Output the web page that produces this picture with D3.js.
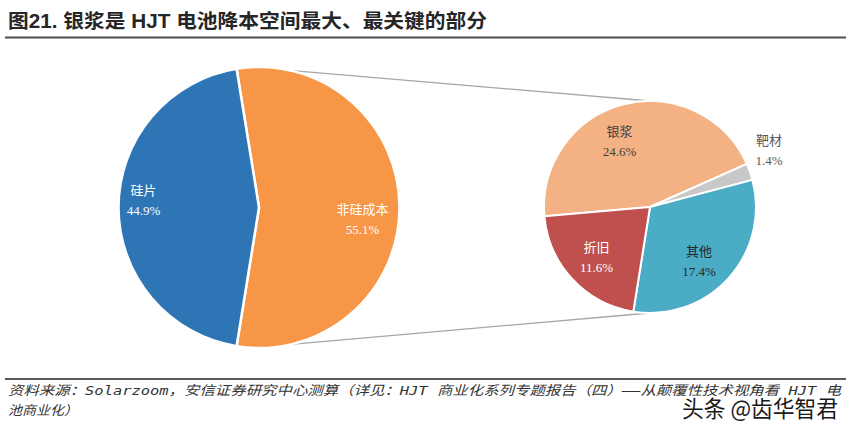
<!DOCTYPE html>
<html><head><meta charset="utf-8">
<script src="https://cdn.jsdelivr.net/npm/d3@7/dist/d3.min.js"></script>
<style>
body{margin:0;background:#fff;}
svg{display:block;}
</style></head>
<body>
<svg id="c" width="853" height="429"></svg>
<script>
// ---- data ----
const titleText = "图21. 银浆是 HJT 电池降本空间最大、最关键的部分";
const mainCategories = ["非硅成本", "硅片"];
const mainValues = [55.1, 44.9];
const mainLabels = ["55.1%", "44.9%"];
const subCategories = ["银浆", "靶材", "其他", "折旧"];
const subValues = [24.6, 1.4, 17.4, 11.6];
const subLabels = ["24.6%", "1.4%", "17.4%", "11.6%"];
const sourceLine1 = "资料来源：Solarzoom，安信证券研究中心测算（详见：HJT 商业化系列专题报告（四）——从颠覆性技术视角看 HJT 电";
const sourceLine2 = "池商业化）";
const watermark = "头条 @齿华智君";

// ---- styles / layout ----
const mainColors = ["#F79646", "#2E75B6"];
const subColors = ["#F4B183", "#C8C8C8", "#4BACC6", "#C0504D"];
const subTextColors = ["#404040", "#595959", "#262626", "#ffffff"];
const mainLabelOffsets = [[-6, 11], [-6, -8]];
const subLabelOffsets = [[-12, 6], [-4, -14], [-6, 4], [0, 0]];
const subLabelRadius = [0.70, 1.23, 0.70, 0.69];

const svg = d3.select("#c");

// title
svg.append("text").attr("x", 8).attr("y", 28)
  .attr("font-family", "Liberation Sans, Noto Sans CJK SC, sans-serif")
  .attr("font-weight", "bold").attr("font-size", 19.5).attr("fill", "#262626")
  .attr("textLength", 479).attr("lengthAdjust", "spacingAndGlyphs")
  .text(titleText);
svg.append("line").attr("x1", 5).attr("x2", 846).attr("y1", 37.5).attr("y2", 37.5)
  .attr("stroke", "#4d4d4d").attr("stroke-width", 2);

// geometry
const L = {cx: 259, cy: 207.5, r: 140.5};
const R = {cx: 650, cy: 207, r: 106};

// connectors
const gLines = svg.append("g");
gLines.append("line").attr("x1", L.cx - 10).attr("y1", L.cy - L.r).attr("x2", R.cx).attr("y2", R.cy - R.r)
  .attr("stroke", "#A6A6A6").attr("stroke-width", 1.3);
gLines.append("line").attr("x1", L.cx - 10).attr("y1", L.cy + L.r).attr("x2", R.cx).attr("y2", R.cy + R.r)
  .attr("stroke", "#A6A6A6").attr("stroke-width", 1.3);

const serif = "Liberation Serif, Noto Sans CJK SC, serif";

// main pie
const mainStart = Math.PI / 2 - Math.PI * mainValues[0] / d3.sum(mainValues);
const pieMain = d3.pie().sort(null).startAngle(mainStart).endAngle(mainStart + 2 * Math.PI);
const arcMain = d3.arc().innerRadius(0).outerRadius(L.r);
const arcMainLabel = d3.arc().innerRadius(L.r * 0.78).outerRadius(L.r * 0.78);
const gMain = svg.append("g").attr("transform", `translate(${L.cx},${L.cy})`);
const mainArcs = pieMain(mainValues);
gMain.selectAll("path").data(mainArcs).join("path")
  .attr("d", arcMain).attr("fill", (d, i) => mainColors[i])
  .attr("stroke", "#fff").attr("stroke-width", 2.5).attr("stroke-linejoin", "round");
mainArcs.forEach((d, i) => {
  const [x, y] = arcMainLabel.centroid(d);
  const px = x + mainLabelOffsets[i][0], py = y + mainLabelOffsets[i][1];
  const t = gMain.append("text").attr("text-anchor", "middle").attr("font-family", serif)
    .attr("font-size", 13).attr("fill", "#fff");
  t.append("tspan").attr("x", px).attr("y", py - 5).text(mainCategories[i]);
  t.append("tspan").attr("x", px).attr("y", py + 15).text(mainLabels[i]);
});

// sub pie
const subStart = -95 * Math.PI / 180;
const pieSub = d3.pie().sort(null).startAngle(subStart).endAngle(subStart + 2 * Math.PI);
const arcSub = d3.arc().innerRadius(0).outerRadius(R.r);
const gSub = svg.append("g").attr("transform", `translate(${R.cx},${R.cy})`);
const subArcs = pieSub(subValues);
gSub.selectAll("path").data(subArcs).join("path")
  .attr("d", arcSub).attr("fill", (d, i) => subColors[i])
  .attr("stroke", "#fff").attr("stroke-width", 2).attr("stroke-linejoin", "round");
subArcs.forEach((d, i) => {
  const lr = R.r * subLabelRadius[i];
  const [x, y] = d3.arc().innerRadius(lr).outerRadius(lr).centroid(d);
  const px = x + subLabelOffsets[i][0], py = y + subLabelOffsets[i][1];
  const t = gSub.append("text").attr("text-anchor", "middle").attr("font-family", serif)
    .attr("font-size", 13).attr("fill", subTextColors[i]);
  t.append("tspan").attr("x", px).attr("y", py - 5).text(subCategories[i]);
  t.append("tspan").attr("x", px).attr("y", py + 15).text(subLabels[i]);
});

// footer
svg.append("line").attr("x1", 5).attr("x2", 846).attr("y1", 379).attr("y2", 379)
  .attr("stroke", "#595959").attr("stroke-width", 2);
const foot = "DejaVu Sans Mono, Noto Sans CJK SC, monospace";
svg.append("text").attr("x", 8).attr("y", 395).attr("font-family", foot)
  .attr("font-style", "italic").attr("font-size", 13).attr("fill", "#333")
  .attr("textLength", 833).attr("lengthAdjust", "spacingAndGlyphs").text(sourceLine1);
svg.append("text").attr("x", 8).attr("y", 415).attr("font-family", foot)
  .attr("font-style", "italic").attr("font-size", 13).attr("fill", "#333")
  .attr("textLength", 70).attr("lengthAdjust", "spacingAndGlyphs").text(sourceLine2);

// watermark
svg.append("text").attr("x", 838).attr("y", 417).attr("text-anchor", "end")
  .attr("font-family", "Noto Sans CJK SC, sans-serif").attr("font-size", 23)
  .attr("fill", "#1a1a1a").attr("stroke", "#fff").attr("stroke-width", 3)
  .attr("paint-order", "stroke").attr("textLength", 156).attr("lengthAdjust", "spacingAndGlyphs")
  .text(watermark);
</script>
</body></html>
